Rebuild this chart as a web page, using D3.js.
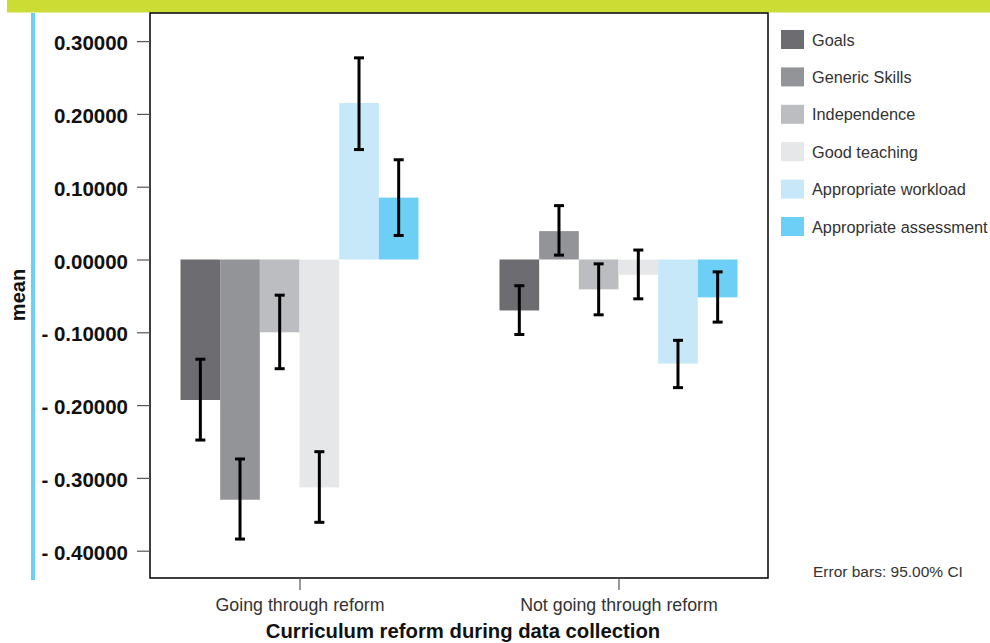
<!DOCTYPE html>
<html>
<head>
<meta charset="utf-8">
<script src="https://cdn.jsdelivr.net/npm/d3@7"></script>
<style>
	body { margin: 0; background: #fff; }
	svg { display: block; font-family: "Liberation Sans", Arial, sans-serif; }
</style>
</head>
<body>
<svg id="chart"></svg>
<script>
	// chart data
	var groups = ["Going through reform", "Not going through reform"];
	var seriesNames = ["Goals", "Generic Skills", "Independence", "Good teaching", "Appropriate workload", "Appropriate assessment"];
	var seriesColors = ["#6d6c71", "#939497", "#bcbdc0", "#e6e7e8", "#c7e8f9", "#6dcff6"];

	// means, one row per group, one value per series
	var means = [
		[-0.193, -0.330, -0.100, -0.313, 0.215, 0.085],
		[-0.070, 0.039, -0.041, -0.021, -0.143, -0.052]
	];
	var ciLow = [
		[-0.248, -0.384, -0.150, -0.361, 0.151, 0.033],
		[-0.103, 0.006, -0.076, -0.054, -0.176, -0.086]
	];
	var ciHigh = [
		[-0.137, -0.274, -0.049, -0.264, 0.277, 0.137],
		[-0.036, 0.074, -0.006, 0.013, -0.111, -0.017]
	];
	var yTicks = [0.3, 0.2, 0.1, 0.0, -0.1, -0.2, -0.3, -0.4];

	var width = 990, height = 643;
	var svg = d3.select("#chart").attr("width", width).attr("height", height);

	var margin = {top: 13, right: 222, bottom: 65, left: 150},
		w = width - margin.left - margin.right,
		h = height - margin.top - margin.bottom;

	// decoration: top band and blue side rule
	svg.append("rect").attr("x", 7).attr("y", 0).attr("width", width - 7).attr("height", 12.5).attr("fill", "#cddc35");
	svg.append("rect").attr("x", 31).attr("y", 13).attr("width", 4).attr("height", 567).attr("fill", "#6dcff6");

	var g = svg.append("g").attr("transform", "translate(" + margin.left + "," + margin.top + ")");

	var y = d3.scaleLinear().domain([-0.4375, 0.3386]).range([h, 0]);

	var x0 = d3.scalePoint().domain(groups).range([0, w]).padding(0.46875);
	var x1 = d3.scaleBand().domain(seriesNames).range([-119, 119]).padding(0);
	var color = d3.scaleOrdinal().domain(seriesNames).range(seriesColors);

	var rows = [];
	groups.forEach(function(gr, i){
		seriesNames.forEach(function(s, j){
			rows.push({group: gr, series: s, mean: means[i][j], lo: ciLow[i][j], hi: ciHigh[i][j]});
		});
	});

	// bars
	g.selectAll(".bar")
		.data(rows)
		.enter().append("rect")
		.attr("class", "bar")
		.attr("x", function(d){ return x0(d.group) + x1(d.series); })
		.attr("width", x1.bandwidth())
		.attr("y", function(d){ return y(Math.max(0, d.mean)); })
		.attr("height", function(d){ return Math.abs(y(d.mean) - y(0)); })
		.attr("fill", function(d){ return color(d.series); });

	// error bars
	var eb = g.selectAll(".err")
		.data(rows)
		.enter().append("g")
		.attr("class", "err")
		.attr("transform", function(d){ return "translate(" + (x0(d.group) + x1(d.series) + x1.bandwidth() / 2) + ",0)"; });

	eb.append("line")
		.attr("y1", function(d){ return y(d.lo); })
		.attr("y2", function(d){ return y(d.hi); })
		.attr("stroke", "#000").attr("stroke-width", 3);
	eb.append("line")
		.attr("x1", -5).attr("x2", 5)
		.attr("y1", function(d){ return y(d.lo); })
		.attr("y2", function(d){ return y(d.lo); })
		.attr("stroke", "#000").attr("stroke-width", 3);
	eb.append("line")
		.attr("x1", -5).attr("x2", 5)
		.attr("y1", function(d){ return y(d.hi); })
		.attr("y2", function(d){ return y(d.hi); })
		.attr("stroke", "#000").attr("stroke-width", 3);

	// frame
	g.append("rect").attr("width", w).attr("height", h)
		.attr("fill", "none").attr("stroke", "#000").attr("stroke-width", 1.5);

	// y axis
	var fmt = function(v){
		if (Math.abs(v) < 1e-9) return "0.00000";
		return v < 0 ? "- " + Math.abs(v).toFixed(5) : v.toFixed(5);
	};
	var yAxis = g.append("g")
		.call(d3.axisLeft(y).tickValues(yTicks).tickFormat(fmt).tickSize(13).tickPadding(9));
	yAxis.select(".domain").remove();
	yAxis.selectAll(".tick line").attr("stroke", "#555").attr("stroke-width", 1.2);
	yAxis.selectAll(".tick text")
		.attr("dy", "0.42em")
		.style("font", "bold 20.5px 'Liberation Sans', Arial, sans-serif")
		.attr("fill", "#111");

	// x axis
	var xAxis = g.append("g")
		.attr("transform", "translate(0," + h + ")")
		.call(d3.axisBottom(x0).tickSize(12).tickPadding(8));
	xAxis.select(".domain").remove();
	xAxis.selectAll(".tick line").attr("stroke", "#555").attr("stroke-width", 1.2);
	xAxis.selectAll(".tick text")
		.attr("dy", "0.71em")
		.style("font", "17.8px 'Liberation Sans', Arial, sans-serif")
		.attr("fill", "#333");

	// axis titles
	svg.append("text")
		.attr("transform", "translate(25," + 295 + ") rotate(-90)")
		.attr("text-anchor", "middle")
		.style("font", "bold 20px 'Liberation Sans', Arial, sans-serif")
		.attr("fill", "#111")
		.text("mean");

	svg.append("text")
		.attr("x", margin.left + 313).attr("y", 638)
		.attr("text-anchor", "middle")
		.style("font", "bold 20.3px 'Liberation Sans', Arial, sans-serif")
		.attr("fill", "#111")
		.text("Curriculum reform during data collection");

	// legend
	var legend = svg.append("g").attr("transform", "translate(781,30)");
	var leg = legend.selectAll(".leg")
		.data(seriesNames)
		.enter().append("g")
		.attr("class", "leg")
		.attr("transform", function(d, i){ return "translate(0," + (i * 37.4) + ")"; });
	leg.append("rect").attr("width", 23).attr("height", 19)
		.attr("fill", function(d){ return color(d); });
	leg.append("text")
		.attr("x", 31).attr("y", 15.5)
		.style("font", "16.3px 'Liberation Sans', Arial, sans-serif")
		.attr("fill", "#333")
		.text(function(d){ return d; });

	svg.append("text")
		.attr("x", 813).attr("y", 577)
		.style("font", "15.5px 'Liberation Sans', Arial, sans-serif")
		.attr("fill", "#333")
		.text("Error bars: 95.00% CI");
</script>
</body>
</html>
